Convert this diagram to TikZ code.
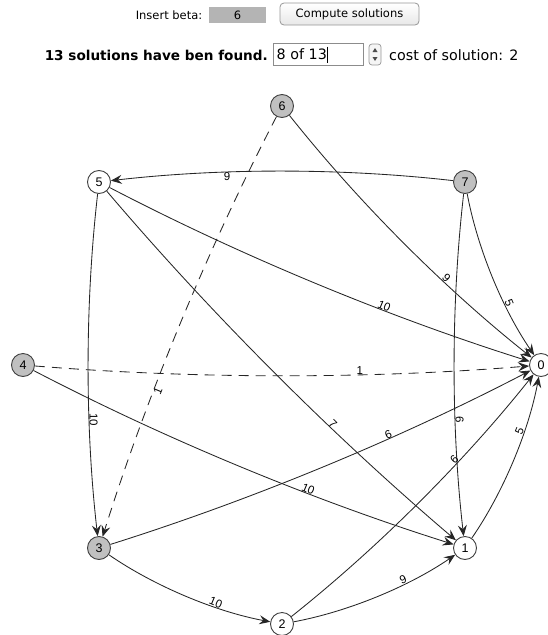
\documentclass[tikz,border=0pt]{standalone}
\usepackage{fontspec}
\setmainfont{Liberation Sans}
\newfontfamily\uifont{DejaVu Sans}
\usetikzlibrary{arrows.meta,calc}
\definecolor{nodegrey}{RGB}{192,192,192}
\definecolor{betagrey}{RGB}{180,180,180}
\definecolor{btnborder}{RGB}{150,150,150}
\definecolor{fieldborder}{RGB}{140,140,140}
\newcommand\qedge[5]{%
  \coordinate (qm) at ($(#3)!0.5!(#4)!21pt!-90:(#4)$);
  \coordinate (qa) at ($(#3)!0.6667!(qm)$);
  \coordinate (qb) at ($(#4)!0.6667!(qm)$);
  \draw[edge,#1] (#3) .. controls (qa) and (qb) .. (#4);
  \path ($(#3)!5.5pt!-90:(#4)$) -- node[elabel,pos=0.65,sloped,#2] {#5} ($(#4)!5.5pt!90:(#3)$);
}
\begin{document}
\begin{tikzpicture}[x=1pt,y=-1pt,
  vtx/.style={circle,draw=black!75,line width=0.9pt,minimum size=23pt,inner sep=0pt,font=\fontsize{12.5}{14}\selectfont},
  gv/.style={vtx,fill=nodegrey},
  wv/.style={vtx,fill=white},
  edge/.style={draw=black!85,line width=0.85pt,-{Stealth[length=11pt,width=9pt,inset=4pt]}},
  dashededge/.style={dash pattern=on 10pt off 7pt},
  elabel/.style={font=\fontsize{11.5}{12}\selectfont,inner sep=0pt},
  uitext/.style={font=\uifont\fontsize{11.5}{13}\selectfont,inner sep=0pt},
  uibig/.style={font=\uifont\fontsize{14.3}{16}\selectfont,inner sep=0pt},
]
\useasboundingbox (0,0) rectangle (548,635);
% ---------- top controls ----------
\node[uitext] (betalbl) at (169,15) {Insert beta:};
\path[fill=betagrey] (209,7) rectangle (266,23);
\node[uitext] (betaval) at (237.5,15) {6};
\path[draw=btnborder,line width=0.8pt,rounded corners=4pt,top color=white,bottom color=black!9] (280,3) rectangle (419,25);
\node[uitext] (btn) at (349.5,14) {Compute solutions};
\node[uibig,anchor=east,font=\uifont\bfseries\fontsize{13.6}{15}\selectfont] (found) at (268,55) {13 solutions have ben found.};
\path[draw=fieldborder,fill=white,line width=0.8pt] (273,43) rectangle (363,65);
\node[uibig,anchor=west] (tf) at (276.5,54.5) {8 of 13};
\draw[line width=0.9pt] ($(tf.east)+(0.8,-8)$) -- ($(tf.east)+(0.8,8)$);
\path[draw=btnborder,fill=black!4,line width=0.7pt,rounded corners=3pt] (369,44) rectangle (381,65);
\fill[black!70] (372.5,52) -- (377.5,52) -- (375,48) -- cycle;
\fill[black!70] (372.5,57) -- (377.5,57) -- (375,61) -- cycle;
\node[uibig,anchor=west] (cost) at (389,55) {cost of solution: 2};
% ---------- graph nodes ----------
\node[wv] (v0) at (541,365) {0};
\node[wv] (v1) at (465,548) {1};
\node[wv] (v2) at (282,624) {2};
\node[gv] (v3) at (99,548) {3};
\node[gv] (v4) at (23,365) {4};
\node[wv] (v5) at (99,182) {5};
\node[gv] (v6) at (282,106) {6};
\node[gv] (v7) at (465,182) {7};
% ---------- edges ----------
\qedge{}{}{v7}{v5}{9}
\qedge{}{}{v6}{v0}{9}
\qedge{dashededge}{}{v6}{v3}{1}
\qedge{dashededge}{}{v4}{v0}{1}
\qedge{}{}{v4}{v1}{10}
\qedge{}{allow upside down}{v5}{v3}{10}
\qedge{}{}{v5}{v0}{10}
\qedge{}{}{v5}{v1}{7}
\qedge{}{}{v7}{v0}{5}
\qedge{}{allow upside down}{v7}{v1}{6}
\qedge{}{}{v3}{v0}{6}
\qedge{}{}{v3}{v2}{10}
\qedge{}{}{v2}{v0}{6}
\qedge{}{}{v2}{v1}{9}
\qedge{}{}{v1}{v0}{5}
\end{tikzpicture}
\end{document}
